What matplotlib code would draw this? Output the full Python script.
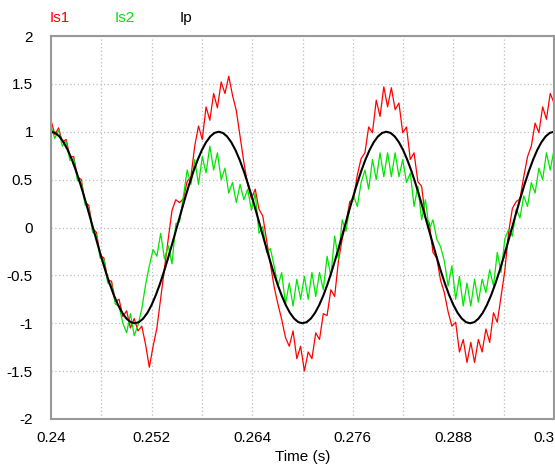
import numpy as np
import matplotlib
matplotlib.use('Agg')
import matplotlib.pyplot as plt

plt.rcParams['font.family'] = ['Liberation Sans', 'DejaVu Sans']

is1 = [1.12, 0.97, 1.04, 0.89, 0.92, 0.74, 0.74, 0.53, 0.50, 0.27,
       0.23, -0.01, -0.05, -0.29, -0.32, -0.55, -0.56, -0.77, -0.75, -0.93,
       -0.87, -1.05, -0.95, -1.08, -1.03, -1.22, -1.46, -1.24, -1.05, -0.74,
       -0.43, -0.12, 0.18, 0.29, 0.26, 0.30, 0.48, 0.53, 0.85, 1.06,
       0.92, 1.26, 1.12, 1.40, 1.25, 1.52, 1.40, 1.58, 1.38, 1.22,
       0.95, 0.68, 0.45, 0.30, 0.40, 0.19, 0.12, -0.13, -0.38, -0.62,
       -0.80, -0.96, -1.15, -1.24, -1.08, -1.37, -1.24, -1.50, -1.30, -1.37,
       -1.10, -1.17, -0.90, -0.92, -0.65, -0.72, -0.35, -0.12, 0.05, 0.27,
       0.30, 0.55, 0.72, 0.78, 1.05, 0.99, 1.33, 1.16, 1.47, 1.26,
       1.46, 1.23, 1.30, 0.99, 1.05, 0.71, 0.78, 0.48, 0.43, 0.10,
       0.05, -0.26, -0.32, -0.55, -0.68, -0.88, -1.03, -0.99, -1.30, -1.17,
       -1.41, -1.20, -1.41, -1.17, -1.30, -1.06, -1.20, -0.89, -0.99, -0.72,
       -0.45, -0.05, 0.20, 0.27, 0.30, 0.53, 0.74, 0.85, 1.09, 0.99,
       1.26, 1.13, 1.40, 1.30]

# Is2 (green), same sampling
is2 = [1.06, 0.93, 1.02, 0.85, 0.90, 0.70, 0.72, 0.49, 0.48, 0.24,
       0.20, -0.05, -0.08, -0.32, -0.34, -0.58, -0.60, -0.80, -0.82, -1.00,
       -1.10, -0.90, -1.13, -1.02, -0.85, -0.60, -0.40, -0.23, -0.30, -0.06,
       -0.33, -0.19, -0.38, 0.04, 0.06, 0.32, 0.60, 0.45, 0.71, 0.45,
       0.74, 0.57, 0.85, 0.60, 0.78, 0.50, 0.62, 0.36, 0.47, 0.26,
       0.45, 0.29, 0.40, 0.18, 0.36, -0.06, 0.01, -0.26, -0.22, -0.40,
       -0.61, -0.47, -0.80, -0.58, -0.82, -0.54, -0.75, -0.51, -0.75, -0.47,
       -0.72, -0.47, -0.65, -0.30, -0.51, -0.09, -0.33, 0.08, -0.04, 0.22,
       0.33, 0.22, 0.47, 0.60, 0.40, 0.71, 0.50, 0.78, 0.53, 0.78,
       0.53, 0.78, 0.53, 0.71, 0.47, 0.57, 0.22, 0.43, 0.08, 0.29,
       -0.02, 0.08, -0.12, -0.20, -0.35, -0.61, -0.40, -0.75, -0.51, -0.82,
       -0.58, -0.82, -0.54, -0.78, -0.54, -0.68, -0.44, -0.61, -0.26, -0.47,
       -0.12, -0.02, -0.09, 0.19, 0.10, 0.33, 0.22, 0.47, 0.36, 0.62,
       0.50, 0.78, 0.60, 0.81]

# Ip (black), every 0.5 ms
ip = [1.000, 0.988, 0.951, 0.891, 0.809, 0.707, 0.588, 0.454, 0.309, 0.156,
      0.000, -0.156, -0.309, -0.454, -0.588, -0.707, -0.809, -0.891, -0.951, -0.988,
      -1.000, -0.988, -0.951, -0.891, -0.809, -0.707, -0.588, -0.454, -0.309, -0.156,
      0.000, 0.156, 0.309, 0.454, 0.588, 0.707, 0.809, 0.891, 0.951, 0.988,
      1.000, 0.988, 0.951, 0.891, 0.809, 0.707, 0.588, 0.454, 0.309, 0.156,
      0.000, -0.156, -0.309, -0.454, -0.588, -0.707, -0.809, -0.891, -0.951, -0.988,
      -1.000, -0.988, -0.951, -0.891, -0.809, -0.707, -0.588, -0.454, -0.309, -0.156,
      0.000, 0.156, 0.309, 0.454, 0.588, 0.707, 0.809, 0.891, 0.951, 0.988,
      1.000, 0.988, 0.951, 0.891, 0.809, 0.707, 0.588, 0.454, 0.309, 0.156,
      0.000, -0.156, -0.309, -0.454, -0.588, -0.707, -0.809, -0.891, -0.951, -0.988,
      -1.000, -0.988, -0.951, -0.891, -0.809, -0.707, -0.588, -0.454, -0.309, -0.156,
      0.000, 0.156, 0.309, 0.454, 0.588, 0.707, 0.809, 0.891, 0.951, 0.988,
      1.000]

x_ticks = [0.24, 0.252, 0.264, 0.276, 0.288, 0.3]
x_labels = ['0.24', '0.252', '0.264', '0.276', '0.288', '0.3']
x_minor = [0.246, 0.258, 0.270, 0.282, 0.294]
y_ticks = [-2, -1.5, -1, -0.5, 0, 0.5, 1, 1.5, 2]
y_labels = ['-2', '-1.5', '-1', '-0.5', '0', '0.5', '1', '1.5', '2']

t = np.linspace(0.24, 0.3, len(is1))
t_ip = np.linspace(0.24, 0.3, len(ip))

fig = plt.figure(figsize=(5.55, 4.68), dpi=100)
ax = fig.add_axes([51/555, 1 - 419/468, 503/555, 383/468])

ax.plot(t, is1, color='#ff0000', lw=0.9)
ax.plot(t, is2, color='#00e600', lw=0.9)
ax.plot(t_ip, ip, color='black', lw=1.5)

ax.set_xlim(0.24, 0.3)
ax.set_ylim(-2, 2)
ax.set_xticks(x_ticks)
ax.set_xticklabels(x_labels)
ax.set_xticks(x_minor, minor=True)
ax.set_yticks(y_ticks)
ax.set_yticklabels(y_labels)
ax.grid(which='both', color='#bdbdbd', linestyle=(0, (1, 2)), lw=0.9)
ax.set_axisbelow(True)
ax.tick_params(which='both', length=0, labelsize=11)
ax.tick_params(axis='x', pad=9)
ax.tick_params(axis='y', pad=13)
# last time label sits inside the frame edge, like the original
ax.get_xticklabels()[-1].set_horizontalalignment('right')
for s in ax.spines.values():
    s.set_color('#999999')
    s.set_linewidth(1.5)

# legend labels across the top, as in the scope window
fig.text(50/555, 1 - 18/468, 'Is1', color='#ff0000', fontsize=11, va='center')
fig.text(115/555, 1 - 18/468, 'Is2', color='#00e600', fontsize=11, va='center')
fig.text(180/555, 1 - 18/468, 'Ip', color='black', fontsize=11, va='center')
fig.text(302.5/555, 1 - 457/468, 'Time (s)', fontsize=11, ha='center', va='center')

fig.savefig('out.png', dpi=100)
